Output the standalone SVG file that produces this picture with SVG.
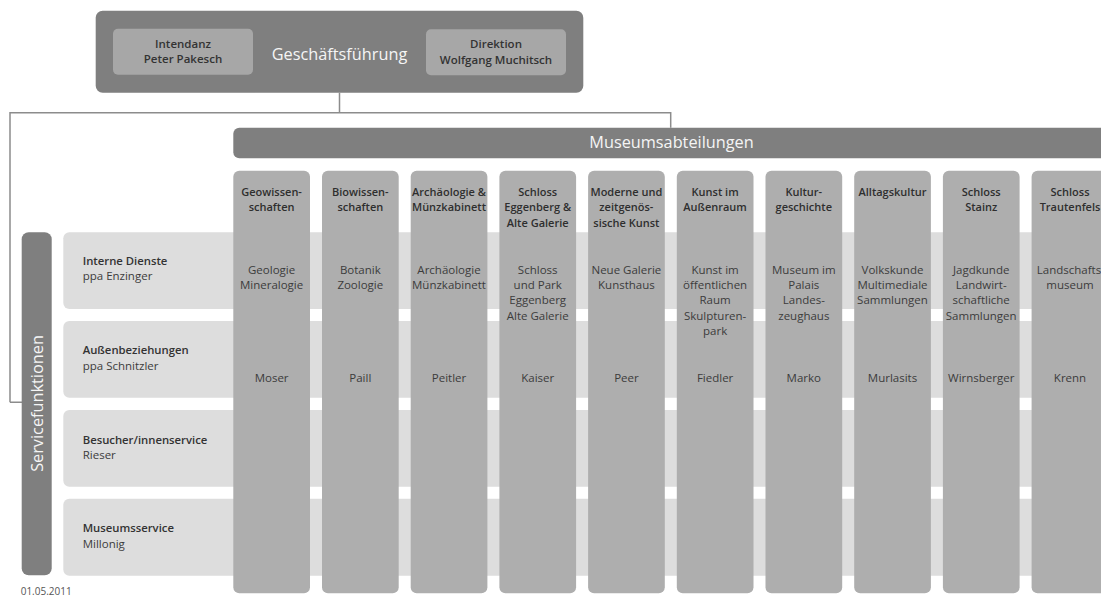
<svg xmlns="http://www.w3.org/2000/svg" width="1101" height="596" viewBox="0 0 1101 596">
<style>
text{font-family:"Open Sans","Noto Sans","DejaVu Sans",sans-serif}
.dark{fill:#7f7f7f}
.inner{fill:#a7a7a7}
.col{fill:#aeaeae}
.row{fill:#dddddd}
.w{fill:#f5f5f5;font-size:16.3px}
.b{fill:#333;font-size:11.3px;font-weight:600}
.bt{fill:#333;font-size:11.5px;font-weight:600;text-anchor:middle}
.r{fill:#3c3c3c;font-size:11.5px}
.h{fill:#2e2e2e;font-size:11px;font-weight:600;text-anchor:middle}
.m{fill:#3c3c3c;font-size:11.5px;text-anchor:middle}
.conn{fill:none;stroke:#8c8c8c;stroke-width:1.5}
</style>
<rect width="1101" height="596" fill="#ffffff"/>
<g id="connectors">
<path class="conn" d="M339.5 92.7V112.7M10 402.3V112.7H670.7V127.7M10 402.3H22"/>
</g>
<g id="geschaeftsfuehrung">
<rect class="dark" x="95.7" y="10.7" width="487.6" height="82" rx="7"/>
<text class="w" x="339.5" y="59.5" text-anchor="middle" font-size="16.5">Geschäftsführung</text>
</g>
<g id="intendanz">
<rect class="inner" x="113" y="28.7" width="140" height="46" rx="5"/>
<text class="bt" x="183" y="47.7">Intendanz</text>
<text class="bt" x="183" y="63">Peter Pakesch</text>
</g>
<g id="direktion">
<rect class="inner" x="426" y="29.3" width="140" height="46" rx="5"/>
<text class="bt" x="496" y="48.3">Direktion</text>
<text class="bt" x="496" y="64">Wolfgang Muchitsch</text>
</g>
<g id="museumsabteilungen">
<rect class="dark" x="233.3" y="127.7" width="880" height="30.6" rx="6"/>
<text class="w" x="671.5" y="148.3" text-anchor="middle">Museumsabteilungen</text>
</g>
<g id="servicefunktionen">
<rect class="dark" x="21.7" y="232.3" width="30" height="343" rx="7"/>
<text class="w" transform="translate(43.3,403.5) rotate(-90)" text-anchor="middle">Servicefunktionen</text>
</g>
<g id="row-interne-dienste">
<rect class="row" x="63.3" y="232.3" width="1050" height="76.7" rx="6"/>
<text class="b" x="82.7" y="265.3">Interne Dienste</text>
<text class="r" x="82.7" y="280.3">ppa Enzinger</text>
</g>
<g id="row-aussenbeziehungen">
<rect class="row" x="63.3" y="321" width="1050" height="76.7" rx="6"/>
<text class="b" x="82.7" y="354.3">Außenbeziehungen</text>
<text class="r" x="82.7" y="369.8">ppa Schnitzler</text>
</g>
<g id="row-besucherservice">
<rect class="row" x="63.3" y="410" width="1050" height="76.7" rx="6"/>
<text class="b" x="82.7" y="444.3">Besucher/innenservice</text>
<text class="r" x="82.7" y="459.3">Rieser</text>
</g>
<g id="row-museumsservice">
<rect class="row" x="63.3" y="498.7" width="1050" height="77" rx="6"/>
<text class="b" x="82.7" y="532.3">Museumsservice</text>
<text class="r" x="82.7" y="548">Millonig</text>
</g>
<g id="col-geowissenschaften">
<rect class="col" x="233.3" y="170.7" width="76.7" height="422.6" rx="6"/>
<text class="h" x="271.6" y="195.5">Geowissen-</text>
<text class="h" x="271.6" y="211">schaften</text>
<text class="m" x="271.6" y="274">Geologie</text>
<text class="m" x="271.6" y="289.2">Mineralogie</text>
<text class="m" x="271.6" y="381.5">Moser</text>
</g>
<g id="col-biowissenschaften">
<rect class="col" x="322" y="170.7" width="76.7" height="422.6" rx="6"/>
<text class="h" x="360.3" y="195.5">Biowissen-</text>
<text class="h" x="360.3" y="211">schaften</text>
<text class="m" x="360.3" y="274">Botanik</text>
<text class="m" x="360.3" y="289.2">Zoologie</text>
<text class="m" x="360.3" y="381.5">Paill</text>
</g>
<g id="col-archaeologie">
<rect class="col" x="410.7" y="170.7" width="76.7" height="422.6" rx="6"/>
<text class="h" x="449" y="195.5">Archäologie &amp;</text>
<text class="h" x="449" y="211">Münzkabinett</text>
<text class="m" x="449" y="274">Archäologie</text>
<text class="m" x="449" y="289.2">Münzkabinett</text>
<text class="m" x="449" y="381.5">Peitler</text>
</g>
<g id="col-schloss-eggenberg">
<rect class="col" x="499.4" y="170.7" width="76.7" height="422.6" rx="6"/>
<text class="h" x="537.7" y="195.5">Schloss</text>
<text class="h" x="537.7" y="211">Eggenberg &amp;</text>
<text class="h" x="537.7" y="226.5">Alte Galerie</text>
<text class="m" x="537.7" y="274">Schloss</text>
<text class="m" x="537.7" y="289.2">und Park</text>
<text class="m" x="537.7" y="304.4">Eggenberg</text>
<text class="m" x="537.7" y="319.6">Alte Galerie</text>
<text class="m" x="537.7" y="381.5">Kaiser</text>
</g>
<g id="col-moderne-kunst">
<rect class="col" x="588.1" y="170.7" width="76.7" height="422.6" rx="6"/>
<text class="h" x="626.4" y="195.5">Moderne und</text>
<text class="h" x="626.4" y="211">zeitgenös-</text>
<text class="h" x="626.4" y="226.5">sische Kunst</text>
<text class="m" x="626.4" y="274">Neue Galerie</text>
<text class="m" x="626.4" y="289.2">Kunsthaus</text>
<text class="m" x="626.4" y="381.5">Peer</text>
</g>
<g id="col-kunst-im-aussenraum">
<rect class="col" x="676.8" y="170.7" width="76.7" height="422.6" rx="6"/>
<text class="h" x="715.1" y="195.5">Kunst im</text>
<text class="h" x="715.1" y="211">Außenraum</text>
<text class="m" x="715.1" y="274">Kunst im</text>
<text class="m" x="715.1" y="289.2">öffentlichen</text>
<text class="m" x="715.1" y="304.4">Raum</text>
<text class="m" x="715.1" y="319.6">Skulpturen-</text>
<text class="m" x="715.1" y="334.8">park</text>
<text class="m" x="715.1" y="381.5">Fiedler</text>
</g>
<g id="col-kulturgeschichte">
<rect class="col" x="765.5" y="170.7" width="76.7" height="422.6" rx="6"/>
<text class="h" x="803.8" y="195.5">Kultur-</text>
<text class="h" x="803.8" y="211">geschichte</text>
<text class="m" x="803.8" y="274">Museum im</text>
<text class="m" x="803.8" y="289.2">Palais</text>
<text class="m" x="803.8" y="304.4">Landes-</text>
<text class="m" x="803.8" y="319.6">zeughaus</text>
<text class="m" x="803.8" y="381.5">Marko</text>
</g>
<g id="col-alltagskultur">
<rect class="col" x="854.2" y="170.7" width="76.7" height="422.6" rx="6"/>
<text class="h" x="892.5" y="195.5">Alltagskultur</text>
<text class="m" x="892.5" y="274">Volkskunde</text>
<text class="m" x="892.5" y="289.2">Multimediale</text>
<text class="m" x="892.5" y="304.4">Sammlungen</text>
<text class="m" x="892.5" y="381.5">Murlasits</text>
</g>
<g id="col-schloss-stainz">
<rect class="col" x="942.9" y="170.7" width="76.7" height="422.6" rx="6"/>
<text class="h" x="981.2" y="195.5">Schloss</text>
<text class="h" x="981.2" y="211">Stainz</text>
<text class="m" x="981.2" y="274">Jagdkunde</text>
<text class="m" x="981.2" y="289.2">Landwirt-</text>
<text class="m" x="981.2" y="304.4">schaftliche</text>
<text class="m" x="981.2" y="319.6">Sammlungen</text>
<text class="m" x="981.2" y="381.5">Wirnsberger</text>
</g>
<g id="col-schloss-trautenfels">
<rect class="col" x="1031.6" y="170.7" width="76.7" height="422.6" rx="6"/>
<text class="h" x="1070" y="195.5">Schloss</text>
<text class="h" x="1070" y="211">Trautenfels</text>
<text class="m" x="1069" y="274">Landschafts</text>
<text class="m" x="1070" y="289.2">museum</text>
<text class="m" x="1070" y="381.5">Krenn</text>
</g>
<text x="20.7" y="594.5" fill="#555" font-size="10">01.05.2011</text>
</svg>
